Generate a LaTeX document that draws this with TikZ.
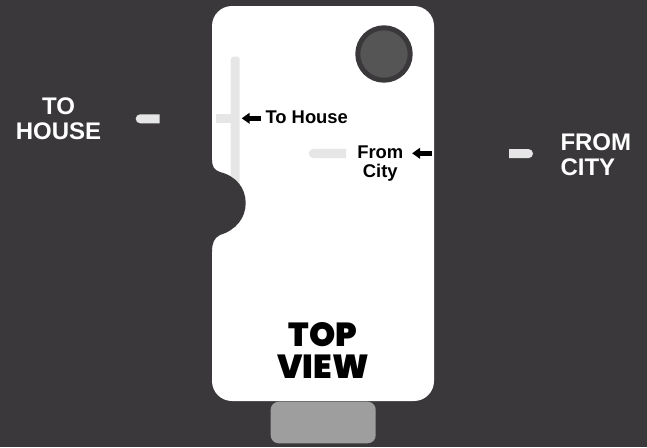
\documentclass[tikz,border=0pt]{standalone}
\usepackage{fontspec}
\setmainfont{Liberation Sans}
\newfontfamily\viewfont{Poppins Black}
\usepackage{xcolor}
\usetikzlibrary{arrows.meta,shapes.misc}
\definecolor{panel}{HTML}{3A383B}
\definecolor{bar}{HTML}{E6E6E6}
\definecolor{knob}{HTML}{555555}
\definecolor{tab}{HTML}{9E9E9E}

\begin{document}
\begin{tikzpicture}[
  x=0.75pt,y=-0.75pt,
  outerlabel/.style={text=white,font=\bfseries\fontsize{18}{18.75}\selectfont,inner sep=0pt,outer sep=0pt},
  innerlabel/.style={text=black,font=\bfseries\fontsize{13.8}{14.25}\selectfont,inner sep=0pt,outer sep=0pt},
  pipe/.style={fill=bar,inner sep=0pt,outer sep=0pt,minimum height=6.8pt},
  pipeend/.style={pipe,rounded rectangle},
  pointer/.style={-{Triangle[length=6pt,width=8pt]},line width=4pt,black},
]
\useasboundingbox (0,0) rectangle (647,447);
\fill[panel] (0,0) rectangle (647,447);

% handle below the body
\node[fill=tab,rounded corners=6pt,minimum width=78.75pt,minimum height=31.2pt,inner sep=0pt] (handle) at (323.2,422.5) {};

% body
\fill[white,rounded corners=15pt] (212,6) rectangle (434,401);

% pipes inside
\fill[bar,rounded corners=2.2pt] (230.7,56.7) rectangle (239.7,215);
\node[pipe,minimum width=11.5pt,anchor=west] (housestub) at (215.7,118.3) {};
\coordinate (housebar) at (239.7,118.3);
\node[pipeend,rounded rectangle east arc=none,minimum width=28pt,anchor=west] (citystub) at (308.7,153.5) {};

% notch
\fill[panel] (205,252) -- (212,252) .. controls (212,243) and (214,238) .. (220,235)
  .. controls (236,230) and (245.7,218) .. (245.7,203)
  .. controls (245.7,188) and (236,176) .. (220,172)
  .. controls (214,170) and (212,166) .. (212,160) -- (205,160) -- cycle;

% knob
\node[circle,draw=panel,line width=3.75pt,fill=knob,minimum size=39.3pt,inner sep=0pt] (knob) at (384,54) {};

% labels
\node[innerlabel,anchor=base west] (tohouse) at (265.5,123.3) {To House};
\node[innerlabel,align=center,anchor=north] (fromcity) at (380.3,145.8) {From\\City};
\coordinate (housetail) at (261,118.3);
\coordinate (citytail) at (431.7,153.3);
\draw[pointer,shorten >=1.5pt] (housetail) -- (housebar);
\draw[pointer,shorten >=6.6pt] (citytail) -- (fromcity.east|-citytail);

\node[font=\viewfont\fontsize{25}{24}\selectfont,text=black,align=center,inner sep=0pt] (topview) at (323,350) {TOP\\VIEW};

% outside
\node[pipeend,rounded rectangle west arc=none,minimum width=18pt,anchor=west] (outcity) at (509,153.6) {};
\node[pipeend,rounded rectangle east arc=none,minimum width=18pt,anchor=west] (outhouse) at (135.7,118.8) {};
\node[outerlabel,align=center] (outtohouse) at (58.5,118.5) {TO\\HOUSE};
\node[outerlabel,align=left,anchor=west] (outfromcity) at (560.5,154.5) {FROM\\CITY};
\end{tikzpicture}
\end{document}
